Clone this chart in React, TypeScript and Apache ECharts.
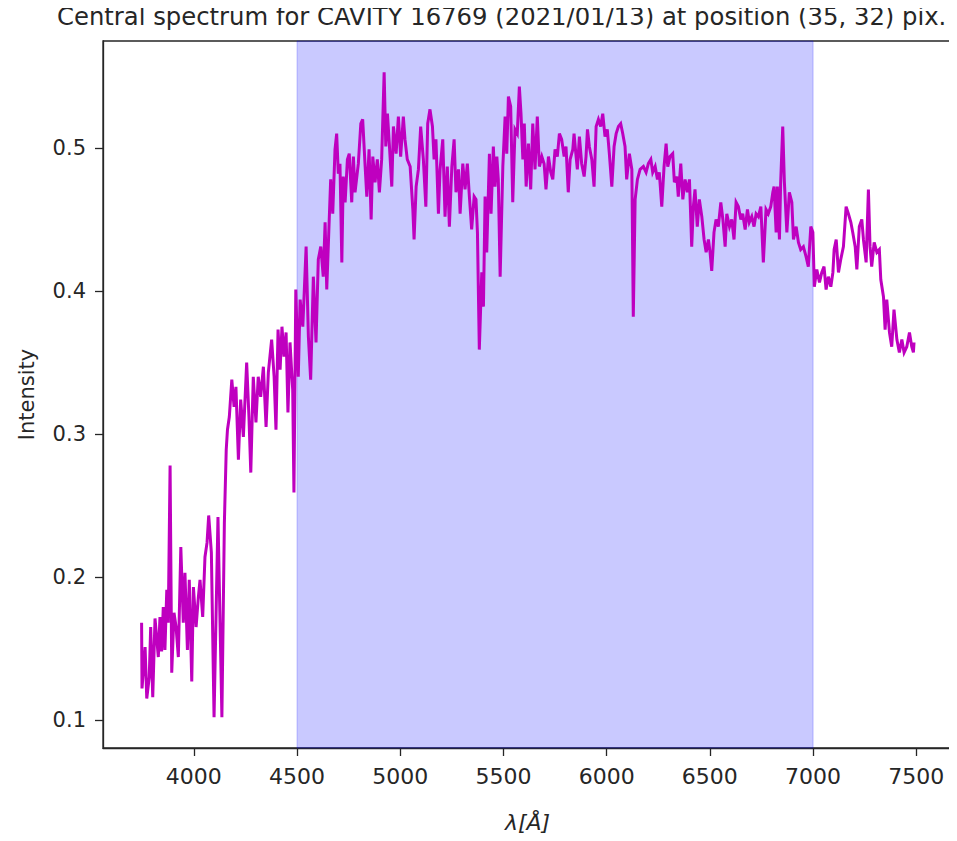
import React, { useEffect, useRef } from "react";
import * as echarts from "echarts";

// Wavelength samples (Å) of the central spectrum
const wavelength: number[] = [
  3747, 3749, 3764, 3772, 3784, 3791, 3801, 3812, 3828, 3836, 3844, 3852, 3860, 3869, 3876, 3885,
  3893, 3904, 3914, 3925, 3937, 3949, 3957, 3969, 3978, 3990, 3998, 4011, 4022, 4030, 4043, 4054,
  4064, 4072, 4085, 4098, 4117, 4136, 4148, 4157, 4163, 4172, 4184, 4195, 4204, 4216, 4227, 4240,
  4256, 4267, 4276, 4288, 4301, 4312, 4324, 4337, 4350, 4361, 4377, 4389, 4398, 4408, 4418, 4427,
  4437, 4447, 4456, 4466, 4479, 4485, 4494,
  4506, 4515, 4528, 4544, 4555, 4566, 4579, 4592, 4603, 4615, 4627, 4636, 4644, 4656, 4663, 4673,
  4684, 4692, 4700, 4708, 4717, 4724, 4733, 4744, 4753, 4765, 4773, 4781, 4797, 4809, 4818, 4830,
  4838, 4849, 4859, 4867, 4878, 4889, 4899, 4910, 4922, 4930, 4938, 4947, 4959, 4967, 4980, 4991,
  5002, 5015, 5023, 5034, 5048, 5061, 5067, 5077, 5088, 5099, 5112, 5124, 5133, 5144, 5156, 5164,
  5173, 5185, 5193, 5206, 5217, 5228, 5238, 5250, 5261, 5270, 5282, 5290, 5303, 5314, 5325, 5335,
  5346, 5358, 5367, 5374, 5383, 5395, 5403, 5411, 5419, 5432, 5440, 5451, 5459, 5468, 5475, 5484,
  5497, 5508, 5516, 5524, 5535, 5545, 5556, 5567, 5577, 5585, 5594, 5601, 5610, 5621, 5632, 5642,
  5653, 5664, 5674, 5686, 5697, 5706, 5718, 5729, 5739, 5750, 5761, 5771, 5782, 5794, 5803, 5814,
  5823, 5836, 5842, 5852, 5858, 5868, 5879, 5891, 5900, 5907, 5916, 5928, 5939, 5949, 5960, 5971,
  5981, 5992, 6003, 6013, 6025, 6036, 6046, 6057, 6068, 6078, 6089, 6097, 6110, 6122, 6129, 6138,
  6149, 6162, 6178, 6191, 6202, 6214, 6223, 6235, 6246, 6255, 6267, 6278, 6288, 6296, 6307, 6320,
  6328, 6340, 6347, 6359, 6369, 6380, 6391, 6401, 6412, 6420, 6428, 6439, 6449, 6461, 6472, 6482,
  6493, 6501, 6509, 6520, 6530, 6541, 6553, 6563, 6574, 6582, 6595, 6606, 6617, 6627, 6638, 6650,
  6659, 6671, 6682, 6691, 6703, 6714, 6724, 6735, 6747, 6759, 6772, 6783, 6795, 6805, 6811, 6821,
  6827, 6837, 6843, 6853, 6861, 6873, 6885, 6897, 6905, 6918, 6929, 6940, 6953, 6966, 6977, 6989,
  6999, 7006, 7018, 7031, 7042, 7053, 7063, 7074, 7086, 7096, 7102, 7112, 7123, 7134, 7147, 7160,
  7171, 7183, 7192, 7204, 7212, 7224, 7236, 7244, 7257, 7268, 7276, 7284, 7296, 7309, 7321, 7328,
  7341, 7349, 7357, 7370, 7381, 7392, 7406, 7418, 7430, 7441, 7454, 7467, 7478, 7486, 7489,
];

// Measured intensity at each wavelength sample
const intensity: number[] = [
  0.168, 0.122, 0.151, 0.115, 0.130, 0.165, 0.116, 0.171, 0.144, 0.172, 0.148, 0.179, 0.149, 0.191, 0.168, 0.278,
  0.133, 0.175, 0.165, 0.144, 0.221, 0.168, 0.203, 0.149, 0.198, 0.127, 0.193, 0.165, 0.186, 0.198, 0.172, 0.214,
  0.224, 0.243, 0.217, 0.102, 0.242, 0.102, 0.238, 0.289, 0.303, 0.312, 0.338, 0.319, 0.333, 0.282, 0.324, 0.298,
  0.350, 0.312, 0.273, 0.340, 0.308, 0.340, 0.326, 0.347, 0.305, 0.343, 0.366, 0.340, 0.303, 0.373, 0.345, 0.375,
  0.354, 0.371, 0.315, 0.364, 0.331, 0.259, 0.401,
  0.340, 0.394, 0.375, 0.431, 0.368, 0.338, 0.410, 0.364, 0.422, 0.431, 0.410, 0.448, 0.401, 0.450, 0.478, 0.454,
  0.499, 0.510, 0.482, 0.489, 0.420, 0.480, 0.462, 0.492, 0.496, 0.462, 0.494, 0.469, 0.489, 0.517, 0.520, 0.487,
  0.466, 0.499, 0.450, 0.494, 0.476, 0.492, 0.469, 0.492, 0.553, 0.501, 0.524, 0.503, 0.473, 0.515, 0.496, 0.522,
  0.494, 0.522, 0.506, 0.492, 0.487, 0.457, 0.436, 0.473, 0.485, 0.515, 0.492, 0.459, 0.517, 0.527, 0.515, 0.492,
  0.506, 0.454, 0.485, 0.506, 0.452, 0.487, 0.445, 0.487, 0.506, 0.469, 0.485, 0.454, 0.489, 0.471, 0.489, 0.466,
  0.443, 0.466, 0.464, 0.441, 0.359, 0.413, 0.389, 0.466, 0.427, 0.496, 0.454, 0.501, 0.473, 0.494, 0.478, 0.410,
  0.487, 0.522, 0.496, 0.536, 0.529, 0.462, 0.513, 0.510, 0.543, 0.524, 0.492, 0.517, 0.473, 0.503, 0.471, 0.517,
  0.485, 0.522, 0.487, 0.494, 0.489, 0.471, 0.494, 0.483, 0.478, 0.499, 0.494, 0.510, 0.506, 0.494, 0.501, 0.469,
  0.492, 0.499, 0.510, 0.494, 0.485, 0.508, 0.489, 0.480, 0.494, 0.513, 0.501, 0.492, 0.473, 0.515, 0.520, 0.515,
  0.524, 0.508, 0.513, 0.496, 0.473, 0.501, 0.510, 0.515, 0.517, 0.510, 0.501, 0.478, 0.496, 0.485, 0.382, 0.464,
  0.478, 0.485, 0.487, 0.483, 0.489, 0.492, 0.483, 0.487, 0.478, 0.483, 0.459, 0.487, 0.503, 0.487, 0.494, 0.496,
  0.476, 0.480, 0.466, 0.489, 0.464, 0.478, 0.469, 0.478, 0.431, 0.459, 0.471, 0.445, 0.464, 0.452, 0.436, 0.427,
  0.436, 0.427, 0.414, 0.441, 0.450, 0.445, 0.462, 0.450, 0.431, 0.454, 0.445, 0.450, 0.436, 0.462, 0.459, 0.450,
  0.454, 0.443, 0.457, 0.448, 0.452, 0.445, 0.454, 0.452, 0.459, 0.420, 0.457, 0.454, 0.459, 0.469, 0.473, 0.441,
  0.473, 0.436, 0.476, 0.515, 0.476, 0.441, 0.469, 0.462, 0.436, 0.445, 0.434, 0.429, 0.431, 0.424, 0.417, 0.445,
  0.441, 0.403, 0.415, 0.406, 0.413, 0.417, 0.401, 0.410, 0.403, 0.413, 0.429, 0.436, 0.413, 0.422, 0.431, 0.459,
  0.454, 0.448, 0.441, 0.431, 0.415, 0.445, 0.450, 0.436, 0.420, 0.471, 0.431, 0.417, 0.434, 0.427, 0.429, 0.408,
  0.396, 0.373, 0.394, 0.371, 0.361, 0.387, 0.366, 0.357, 0.366, 0.357, 0.361, 0.371, 0.361, 0.357, 0.364,
];

// Highlighted wavelength window
const bandStart = 4500;
const bandEnd = 7000;

// Tick positions
const xTicks: number[] = [4000, 4500, 5000, 5500, 6000, 6500, 7000, 7500];
const yTicks: number[] = [0.1, 0.2, 0.3, 0.4, 0.5];

const titleText = "Central spectrum for CAVITY 16769 (2021/01/13) at position (35, 32) pix.";
const FONT = "DejaVu Sans";
const INK = "#262626";

export default function App() {
  const ref = useRef<HTMLDivElement>(null);

  useEffect(() => {
    if (!ref.current) return;
    const chart = echarts.init(ref.current, undefined, { renderer: "svg" });
    const points = wavelength.map((w, i) => [w, intensity[i]]);

    chart.setOption({
      animation: false,
      backgroundColor: "#ffffff",
      graphic: [
        {
          type: "text",
          left: 57,
          top: 4,
          style: {
            text: titleText,
            fontFamily: FONT,
            fontSize: 24.3,
            fill: INK,
          },
        },
      ],
      grid: {
        left: 103,
        right: 5,
        top: 41,
        bottom: 93,
        show: true,
        borderColor: INK,
        borderWidth: 1.3,
        backgroundColor: "transparent",
      },
      xAxis: {
        type: "value",
        min: 3560,
        max: 7673,
        name: "λ[Å]",
        nameLocation: "middle",
        nameGap: 63,
        nameTextStyle: { fontFamily: FONT, fontSize: 22, fontStyle: "italic", color: INK },
        axisLine: { show: true, onZero: false, lineStyle: { color: INK, width: 1.3 } },
        axisTick: { show: true, length: 8, customValues: xTicks, lineStyle: { color: INK, width: 1.3 } },
        axisLabel: {
          customValues: xTicks,
          margin: 17,
          fontFamily: FONT,
          fontSize: 22,
          color: INK,
          formatter: (v: number) => String(v),
        },
        splitLine: { show: false },
      },
      yAxis: {
        type: "value",
        min: 0.0804,
        max: 0.5748,
        name: "Intensity",
        nameLocation: "middle",
        nameGap: 66,
        nameTextStyle: { fontFamily: FONT, fontSize: 21, color: INK },
        axisLine: { show: true, onZero: false, lineStyle: { color: INK, width: 1.3 } },
        axisTick: { show: true, length: 8, customValues: yTicks, lineStyle: { color: INK, width: 1.3 } },
        axisLabel: {
          customValues: yTicks,
          margin: 17,
          fontFamily: FONT,
          fontSize: 21,
          color: INK,
          formatter: (v: number) => v.toFixed(1),
        },
        splitLine: { show: false },
      },
      series: [
        {
          type: "line",
          data: [],
          z: 1,
          silent: true,
          markArea: {
            silent: true,
            itemStyle: {
              color: "rgba(0, 0, 255, 0.21)",
              borderColor: "rgba(0, 0, 255, 0.22)",
              borderWidth: 1,
            },
            data: [[{ xAxis: bandStart }, { xAxis: bandEnd }]],
          },
        },
        {
          type: "line",
          data: points,
          z: 3,
          showSymbol: false,
          symbol: "none",
          lineStyle: { color: "#bf00bf", width: 3, join: "miter" },
        },
      ],
    });

    return () => chart.dispose();
  }, []);

  return <div ref={ref} style={{ width: 957, height: 841, margin: -8 }} />;
}
